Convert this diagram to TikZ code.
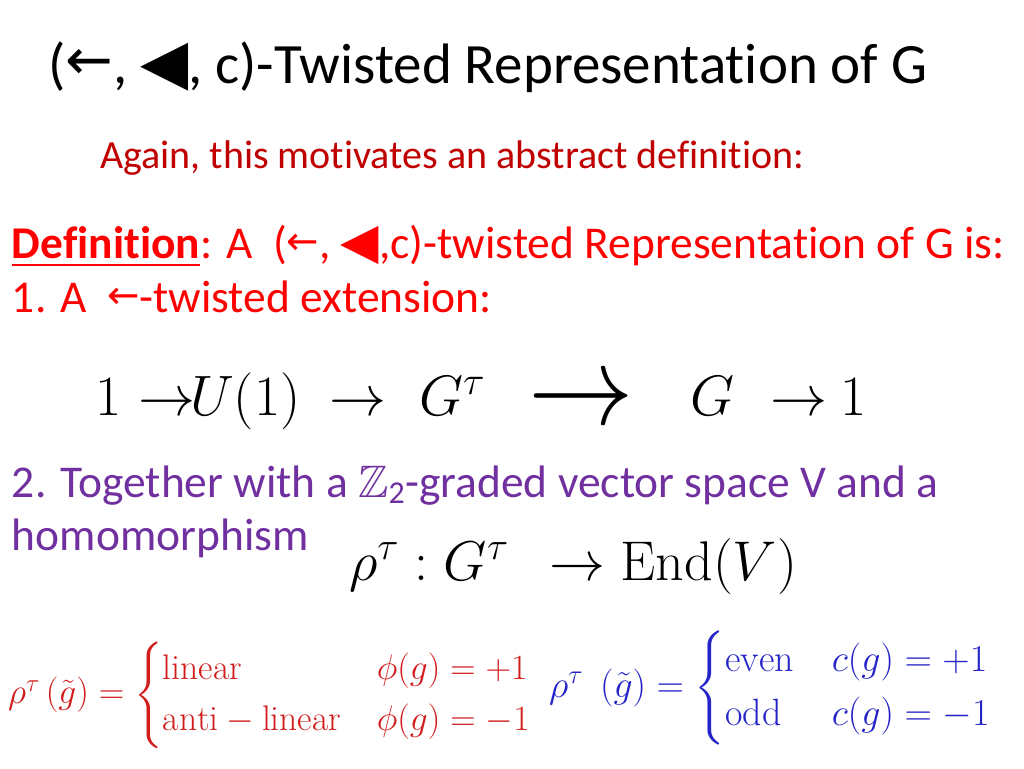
\RequirePackage{fix-cm}
\documentclass[tikz,border=0pt]{standalone}
\usepackage{amsmath,amssymb}
\usepackage{fontspec}
\setmainfont{Carlito}[Ligatures=NoCommon]
\setmathrm{Latin Modern Roman}
\newfontfamily\dejavu{DejaVu Sans}
\definecolor{darkred}{HTML}{C00000}
\definecolor{defred}{HTML}{FF0000}
\definecolor{purp}{HTML}{7030A0}
\definecolor{eqred}{HTML}{D21C1C}
\definecolor{eqblue}{HTML}{2424C8}
\newcommand\larr[1]{\raisebox{0.07em}{\scalebox{#1}{\dejavu ←}}}
\newcommand\ltri{\scalebox{1.1}{\dejavu ◀}}
\begin{document}
\begin{tikzpicture}[x=1pt,y=-1pt,
  txt/.style={anchor=base west, inner sep=0pt, outer sep=0pt},
  titlef/.style={font=\fontsize{57}{68}\selectfont},
  bodyf/.style={font=\fontsize{45.5}{55}\selectfont},
  eqf/.style={font=\fontsize{57}{68}\selectfont}]
\fill[white] (0,0) rectangle (1024,768);
\useasboundingbox (0,0) rectangle (1024,768);
% title
\node[txt, titlef] (title) at (48,83) {(\larr{1.0}, \ltri, c)-Twisted Representation of G};
\node[txt, font=\fontsize{40}{48}\selectfont, text=darkred] (again) at (100,168) {Again, this motivates an abstract definition:};
\node[txt, bodyf, text=defred] (def) at (12,258) {\underline{\textbf{Definition}}: A\ \ (\larr{0.85}, \ltri,c)-twisted Representation of G is:};
\node[txt, bodyf, text=defred] (ext) at (12,312) {1. A\ \ \larr{0.85}-twisted extension:};
% extension sequence
\node[txt, eqf] (e1) at (95,415) {$1$};
\node[txt, eqf] (a1) at (138,415) {$\rightarrow$};
\node[txt, eqf] (u1) at (190,415) {$U(1)$};
\node[txt, eqf] (a2) at (329,415) {$\rightarrow$};
\node[txt, eqf] (gt) at (419,415) {$G^{\tau}$};
\node[anchor=west, inner sep=0pt, eqf] (a3) at (528,404) {\scalebox{1.85}[2.0]{$\rightarrow$}};
\node[txt, eqf] (g) at (690,415) {$G$};
\node[txt, eqf] (a4) at (770,415) {$\rightarrow$};
\node[txt, eqf] (e2) at (840,415) {$1$};
% part 2
\node[txt, bodyf, text=purp] (tog) at (12,497) {2. Together with a \(\mathbb{Z}\)\textsubscript{2}-graded vector space V and a};
\node[txt, bodyf, text=purp] (hom) at (12,550) {homomorphism};
\node[txt, font=\fontsize{56}{67}\selectfont] (rho) at (349,580) {$\rho^{\tau}:G^{\tau}\;\,\rightarrow\mathrm{End}(V)$};
% bottom formulas
\node[anchor=west, inner sep=0pt, font=\fontsize{35.5}{42}\selectfont, text=eqred] (redc) at (8,695)
  {$\rho^{\tau}\,(\tilde g)=\begin{cases}\mathrm{linear} & \phi(g)=+1\\ \mathrm{anti}-\mathrm{linear} & \phi(g)=-1\end{cases}$};
\node[anchor=west, inner sep=0pt, font=\fontsize{38}{45}\selectfont, text=eqblue] (bluec) at (549,688)
  {$\rho^{\tau}\;\,(\tilde g)=\begin{cases}\mathrm{even} & c(g)=+1\\ \mathrm{odd} & c(g)=-1\end{cases}$};
\end{tikzpicture}
\end{document}
